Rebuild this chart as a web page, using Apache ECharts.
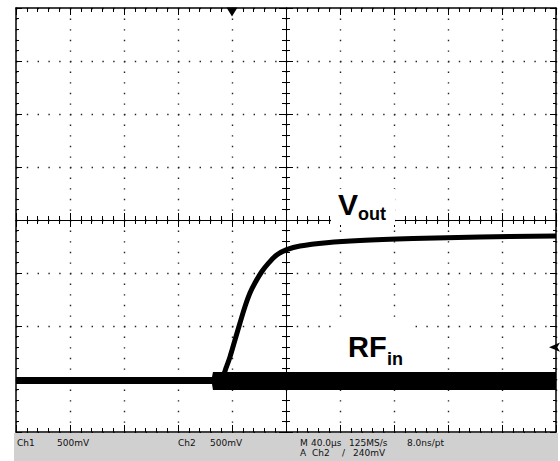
<!DOCTYPE html>
<html>
<head>
<meta charset="utf-8">
<script src="https://cdn.jsdelivr.net/npm/echarts@6.0.0/dist/echarts.min.js"></script>
<style>
html,body{margin:0;padding:0;background:#fff;}
#chart{width:560px;height:461px;}
</style>
</head>
<body>
<div id="chart"></div>
<script>
// ---- data (time in µs, 40 µs/div; voltage in V, 0.5 V/div) ----
const voutTime = [-200, -137.8, -78.5, -54.8, -48.9, -46.7, -44.4, -41.5, -37.8, -34.1, -30.4, -26.7, -23.0, -18.0, -13.1, -6.9, 0.5, 10.4, 30.1, 54.8, 94.1, 143.7, 200];
const voutVolt = [-1.509, -1.514, -1.509, -1.509, -1.500, -1.472, -1.396, -1.292, -1.132, -0.972, -0.818, -0.689, -0.594, -0.488, -0.409, -0.330, -0.280, -0.245, -0.214, -0.193, -0.175, -0.160, -0.151];

const rfTime   = [-200, -54.8, -54.1, 200];
const rfTop    = [-1.481, -1.481, -1.434, -1.434];
const rfBottom = [-1.547, -1.547, -1.604, -1.604];

const triggerTime = -40;
const levelMarker = -1.2;

const statusRow1 = ['Ch1', '500mV', 'Ch2', '500mV', 'M', '40.0µs', '125MS/s', '8.0ns/pt'];
const statusRow2 = ['A', 'Ch2', '/', '240mV'];

const X_MIN = -200, X_MAX = 200, X_INT = 40;
const Y_MIN = -2, Y_MAX = 2, Y_INT = 0.5;

const FONT = '"Liberation Sans", Arial, sans-serif';
const SFONT = '"DejaVu Sans", sans-serif';

function edgeX(pos, split) {
  return {
    type: 'value', min: X_MIN, max: X_MAX, interval: X_INT, position: pos,
    axisLine: { show: true, onZero: false, lineStyle: { color: '#000', width: 1.5 } },
    axisTick: { show: true, inside: true, length: 7, lineStyle: { color: '#000', width: 1 } },
    minorTick: { show: true, splitNumber: 5, length: 4, lineStyle: { color: '#000', width: 1 } },
    axisLabel: { show: false },
    splitLine: { show: split, lineStyle: { color: '#222', width: 1.4, type: [1.4, 9.2] } },
    minorSplitLine: { show: false }
  };
}
function centerX(inside) {
  return {
    type: 'value', min: X_MIN, max: X_MAX, interval: X_INT, position: 'bottom',
    axisLine: { show: true, onZero: true, onZeroAxisIndex: 0, lineStyle: { color: '#000', width: 1 } },
    axisTick: { show: true, inside: inside, length: 7, lineStyle: { color: '#000', width: 1 } },
    minorTick: { show: true, splitNumber: 5, length: 4, lineStyle: { color: '#000', width: 1 } },
    axisLabel: { show: false },
    splitLine: { show: false }
  };
}
function edgeY(pos, split) {
  return {
    type: 'value', min: Y_MIN, max: Y_MAX, interval: Y_INT, position: pos,
    axisLine: { show: true, onZero: false, lineStyle: { color: '#000', width: 1.5 } },
    axisTick: { show: true, inside: true, length: 6, lineStyle: { color: '#000', width: 1 } },
    minorTick: { show: true, splitNumber: 5, length: 3, lineStyle: { color: '#000', width: 1 } },
    axisLabel: { show: false },
    splitLine: { show: split, lineStyle: { color: '#222', width: 1.4, type: [1.4, 9.4] } }
  };
}
function centerY(inside) {
  return {
    type: 'value', min: Y_MIN, max: Y_MAX, interval: Y_INT, position: 'left',
    axisLine: { show: true, onZero: true, onZeroAxisIndex: 0, lineStyle: { color: '#000', width: 1 } },
    axisTick: { show: true, inside: inside, length: 7, lineStyle: { color: '#000', width: 1 } },
    minorTick: { show: true, splitNumber: 5, length: 4, lineStyle: { color: '#000', width: 1 } },
    axisLabel: { show: false },
    splitLine: { show: false }
  };
}

const chart = echarts.init(document.getElementById('chart'), null, { renderer: 'svg' });

const statusText = [];
const row1X = [17, 57, 178, 210, 300, 311, 349, 407];
const row2X = [300, 312, 342, 353];
statusRow1.forEach((t, i) => statusText.push({
  type: 'text', x: row1X[i], y: 443, z: 101,
  style: { text: t, font: '9px ' + SFONT, fill: '#111', verticalAlign: 'middle', align: 'left' }
}));
statusRow2.forEach((t, i) => statusText.push({
  type: 'text', x: row2X[i], y: 453, z: 101,
  style: { text: t, font: '9px ' + SFONT, fill: '#111', verticalAlign: 'middle', align: 'left' }
}));

chart.setOption({
  animation: false,
  backgroundColor: '#fff',
  grid: { left: 16, top: 8, width: 540, height: 424, show: false },
  xAxis: [edgeX('bottom', true), edgeX('top', false), centerX(true), centerX(false)],
  yAxis: [edgeY('left', true), edgeY('right', false), centerY(true), centerY(false)],
  series: [
    {
      type: 'custom', name: 'RFin', coordinateSystem: 'cartesian2d',
      xAxisIndex: 0, yAxisIndex: 0, z: 3,
      data: [[rfTime[0], rfTop[0]]],
      renderItem: function (params, api) {
        const upper = rfTime.map((t, i) => api.coord([t, rfTop[i]]));
        const lower = rfTime.map((t, i) => api.coord([t, rfBottom[i]])).reverse();
        return { type: 'polygon', shape: { points: upper.concat(lower) }, style: { fill: '#000' } };
      }
    },
    {
      type: 'line', name: 'Vout', xAxisIndex: 0, yAxisIndex: 0, z: 4,
      data: voutTime.map((t, i) => [t, voutVolt[i]]),
      showSymbol: false, symbol: 'none', smooth: 0.35,
      lineStyle: { color: '#000', width: 5 },
      markPoint: {
        silent: true,
        label: { show: false },
        data: [
          { coord: [triggerTime, Y_MAX], symbol: 'triangle', symbolRotate: 180, symbolSize: [11, 9], symbolOffset: [0, 4], itemStyle: { color: '#000' } },
          { coord: [X_MAX, levelMarker], symbol: 'arrow', symbolRotate: 90, symbolSize: [7, 11], symbolOffset: [-7, 0], itemStyle: { color: '#000' } }
        ]
      }
    }
  ],
  graphic: [
    { type: 'rect', z: 100, shape: { x: 331, y: 189, width: 64, height: 36 }, style: { fill: '#fff' } },
    { type: 'text', z: 101, x: 338, y: 204, style: { text: 'V', font: 'bold 30px ' + FONT, fill: '#000', verticalAlign: 'middle', align: 'left' } },
    { type: 'text', z: 101, x: 358, y: 214, style: { text: 'out', font: 'bold 18px ' + FONT, fill: '#000', verticalAlign: 'middle', align: 'left' } },
    { type: 'rect', z: 100, shape: { x: 333, y: 321, width: 82, height: 49 }, style: { fill: '#fff' } },
    { type: 'text', z: 101, x: 348, y: 347, style: { text: 'RF', font: 'bold 29px ' + FONT, fill: '#000', verticalAlign: 'middle', align: 'left' } },
    { type: 'text', z: 101, x: 387, y: 359, style: { text: 'in', font: 'bold 18px ' + FONT, fill: '#000', verticalAlign: 'middle', align: 'left' } },
    { type: 'rect', z: 100, shape: { x: 14, y: 433, width: 544, height: 28 }, style: { fill: '#d0d0d0' } }
  ].concat(statusText)
});
</script>
</body>
</html>
